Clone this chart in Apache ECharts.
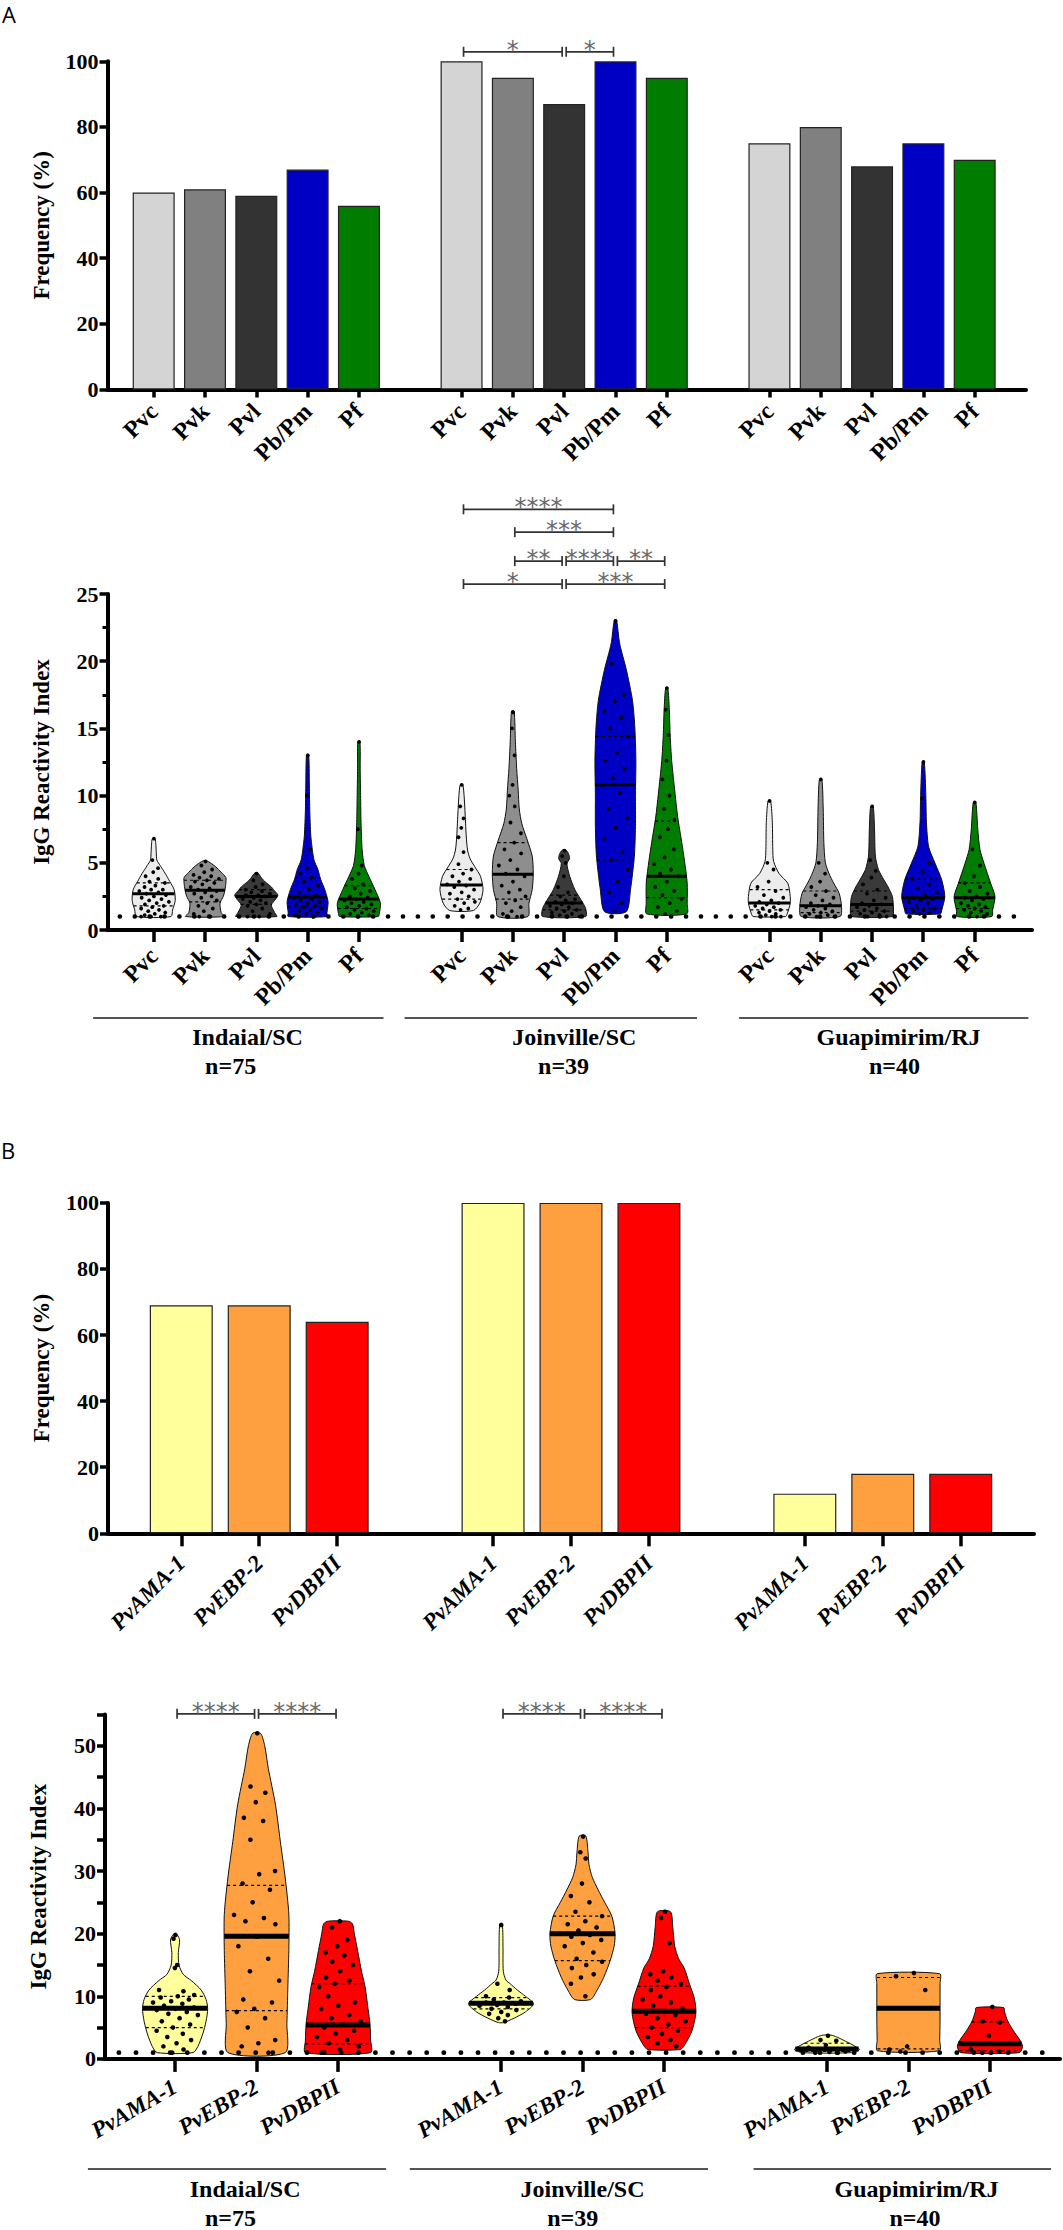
<!DOCTYPE html>
<html>
<head>
<meta charset="utf-8">
<title>IgG seroprevalence and reactivity</title>
<script src="https://cdn.jsdelivr.net/npm/echarts@6.0.0/dist/echarts.min.js"></script>
<style>
  html, body { margin: 0; padding: 0; background: #fff; }
  #chart { width: 1063px; height: 2230px; }
</style>
</head>
<body>
<div id="chart"></div>
<script>
// ---- categories ----
const sites = ['Indaial/SC', 'Joinville/SC', 'Guapimirim/RJ'];
const siteN = ['n=75', 'n=39', 'n=40'];
const antigensA = ['Pvc', 'Pvk', 'Pvl', 'Pb/Pm', 'Pf'];
const antigensB = ['PvAMA-1', 'PvEBP-2', 'PvDBPII'];
const cutoff = 1;

// ---- panel A: frequency (%) ----
const freqA_Indaial = [60, 61, 59, 67, 56];
const freqA_Joinville = [100, 95, 87, 100, 95];
const freqA_Guapimirim = [75, 80, 68, 75, 70];

// ---- panel A: reactivity index (median, quartiles, outline, dots) ----
const medA_Indaial = [2.7, 2.95, 2.5, 2.45, 2.3];
const medA_Joinville = [3.35, 4.15, 2.0, 10.8, 4.0];
const medA_Guapimirim = [2.0, 1.8, 1.9, 2.4, 2.4];
const q1A_Indaial = [1.8, 2.1, 1.9, 1.7, 1.6];
const q1A_Joinville = [2.3, 2.3, 1.5, 5.2, 2.4];
const q1A_Guapimirim = [1.5, 1.3, 1.4, 1.6, 1.6];
const q3A_Indaial = [3.5, 3.7, 3.0, 3.9, 3.3];
const q3A_Joinville = [4.5, 6.5, 2.6, 14.4, 8.1];
const q3A_Guapimirim = [3.0, 2.9, 2.9, 3.8, 3.5];

// outline: [value, relative density]
const shapeA_Indaial = [
  [[1, 0.8], [1.5, 0.88], [2.2, 1.0], [3.0, 0.95], [3.6, 0.75], [4.2, 0.54], [4.8, 0.3], [5.2, 0.15], [5.8, 0.12], [6.4, 0.1], [6.8, 0.06]],
  [[1, 0.9], [1.3, 0.75], [2.0, 0.7], [2.5, 0.85], [3.0, 0.93], [3.5, 0.97], [3.9, 0.97], [4.3, 0.75], [4.7, 0.5], [5.0, 0.25], [5.15, 0.08]],
  [[1, 0.95], [1.3, 0.85], [1.85, 0.7], [2.3, 0.9], [2.6, 1.0], [3.0, 0.8], [3.2, 0.7], [3.6, 0.4], [3.85, 0.25], [4.1, 0.15], [4.25, 0.06]],
  [[1, 0.9], [1.3, 0.9], [2.1, 0.95], [3.0, 0.8], [3.8, 0.6], [4.5, 0.48], [5.2, 0.3], [6.0, 0.22], [7, 0.15], [9, 0.1], [11, 0.08], [13, 0.05]],
  [[1, 0.9], [1.24, 0.95], [2.0, 1.0], [3.0, 0.75], [4.0, 0.46], [4.8, 0.25], [6, 0.15], [8, 0.1], [10, 0.08], [12, 0.06], [14, 0.05]]
];
const shapeA_Joinville = [
  [[1.45, 0.55], [2.0, 0.85], [3.0, 1.0], [4.0, 0.88], [4.7, 0.62], [5.3, 0.4], [5.95, 0.28], [7, 0.22], [8.9, 0.16], [10, 0.12], [10.8, 0.06]],
  [[1, 0.7], [2.0, 0.75], [3.0, 0.9], [4.2, 0.95], [5.5, 0.9], [6.7, 0.67], [7.9, 0.42], [9, 0.3], [10.4, 0.25], [12, 0.18], [14, 0.12], [16.3, 0.06]],
  [[1, 1.0], [1.6, 1.0], [2.2, 0.8], [3.0, 0.5], [4.0, 0.26], [4.95, 0.13], [5.3, 0.25], [5.7, 0.2], [5.95, 0.08]],
  [[1.36, 0.5], [3, 0.7], [5.5, 0.88], [7.7, 0.93], [10.1, 0.93], [12.6, 0.95], [15.1, 0.9], [17.1, 0.79], [19.35, 0.51], [21.3, 0.2], [23.07, 0.05]],
  [[1.2, 0.93], [2, 0.95], [3.5, 0.95], [5.2, 0.82], [6.5, 0.7], [8.4, 0.51], [10.1, 0.39], [12.6, 0.23], [14.5, 0.16], [16.4, 0.12], [18, 0.05]]
];
const shapeA_Guapimirim = [
  [[1, 0.75], [1.24, 0.84], [2.0, 0.97], [2.5, 0.97], [3.47, 0.86], [4.2, 0.45], [5.1, 0.2], [6, 0.16], [8, 0.14], [9.6, 0.06]],
  [[1, 0.9], [1.74, 0.97], [2.73, 0.86], [3.5, 0.6], [4.2, 0.39], [5.0, 0.22], [6.5, 0.15], [9, 0.12], [11.2, 0.06]],
  [[1, 0.95], [1.49, 1.0], [2.48, 0.95], [3.2, 0.75], [3.72, 0.56], [4.5, 0.3], [5.5, 0.16], [7.5, 0.12], [9.2, 0.06]],
  [[1.2, 0.8], [1.49, 0.86], [2.48, 1.0], [3.72, 0.86], [4.96, 0.55], [6.2, 0.25], [8, 0.15], [10, 0.12], [12.5, 0.05]],
  [[1, 0.8], [1.49, 0.84], [2.48, 0.95], [3.47, 0.75], [4.96, 0.44], [6, 0.25], [7.5, 0.15], [9.5, 0.06]]
];

const dotsA_Indaial = [
  [6.8, 5.2, 4.6, 4.3, 4.0, 3.8, 3.6, 3.5, 3.3, 3.2, 3.0, 3.0, 2.9, 2.8, 2.7, 2.6, 2.5, 2.4, 2.3, 2.2, 2.1, 2.0, 1.9, 1.8, 1.7, 1.6, 1.5, 1.4, 1.3, 1.2, 1.1, 1.0, 1.0, 1.0],
  [5.1, 4.8, 4.5, 4.3, 4.1, 4.0, 3.9, 3.8, 3.7, 3.6, 3.5, 3.4, 3.2, 3.1, 3.0, 2.9, 2.8, 2.7, 2.5, 2.4, 2.2, 2.0, 1.8, 1.6, 1.4, 1.2, 1.0, 1.0],
  [4.2, 3.7, 3.4, 3.2, 3.0, 2.9, 2.8, 2.7, 2.6, 2.6, 2.5, 2.4, 2.3, 2.2, 2.1, 2.0, 1.9, 1.8, 1.6, 1.4, 1.2, 1.0, 1.0],
  [13.0, 10.0, 6.0, 4.6, 4.2, 3.9, 3.6, 3.3, 3.0, 2.8, 2.6, 2.5, 2.4, 2.3, 2.2, 2.1, 2.0, 1.9, 1.8, 1.7, 1.6, 1.5, 1.4, 1.3, 1.2, 1.1, 1.0],
  [14.0, 7.5, 4.8, 4.2, 3.8, 3.4, 3.1, 2.9, 2.7, 2.5, 2.4, 2.3, 2.2, 2.1, 2.0, 1.9, 1.8, 1.7, 1.6, 1.5, 1.4, 1.3, 1.2, 1.1, 1.0]
];
const dotsA_Joinville = [
  [10.8, 9.2, 8.3, 7.6, 6.9, 5.8, 4.9, 4.5, 4.2, 4.0, 3.8, 3.6, 3.4, 3.3, 3.2, 3.0, 2.8, 2.7, 2.5, 2.3, 2.1, 2.0, 1.8, 1.6, 1.5],
  [16.2, 15.0, 13.0, 10.8, 10.0, 9.2, 8.0, 7.2, 6.5, 6.0, 5.7, 5.2, 4.8, 4.5, 4.2, 4.0, 3.6, 3.3, 3.0, 2.8, 2.5, 2.2, 2.0, 1.7, 1.4, 1.2, 1.0, 1.0],
  [5.9, 5.5, 5.0, 4.0, 3.2, 2.8, 2.5, 2.3, 2.2, 2.1, 2.0, 1.9, 1.8, 1.7, 1.6, 1.5, 1.4, 1.3, 1.2, 1.1, 1.0, 1.0],
  [23.0, 19.8, 17.5, 17.0, 16.3, 15.8, 15.0, 14.4, 13.2, 12.6, 12.0, 11.3, 10.8, 10.2, 9.0, 8.3, 7.6, 6.8, 5.8, 5.2, 4.5, 3.6, 2.8, 2.0, 1.4],
  [18.0, 16.4, 14.5, 12.6, 11.2, 10.0, 9.0, 8.2, 7.5, 6.9, 6.0, 5.4, 4.9, 4.5, 4.2, 4.0, 3.6, 3.2, 2.9, 2.6, 2.3, 2.0, 1.7, 1.4, 1.2]
];
const dotsA_Guapimirim = [
  [9.6, 5.0, 4.5, 3.6, 3.2, 2.9, 2.6, 2.4, 2.2, 2.1, 2.0, 1.9, 1.8, 1.7, 1.6, 1.5, 1.4, 1.3, 1.2, 1.1, 1.0, 1.0],
  [11.2, 5.0, 4.2, 3.6, 3.2, 2.9, 2.6, 2.4, 2.2, 2.0, 1.9, 1.8, 1.7, 1.6, 1.5, 1.4, 1.3, 1.2, 1.1, 1.0, 1.0],
  [9.2, 5.2, 4.4, 3.9, 3.4, 3.0, 2.7, 2.4, 2.2, 2.0, 1.9, 1.8, 1.7, 1.6, 1.5, 1.4, 1.3, 1.2, 1.1, 1.0, 1.0],
  [12.5, 9.8, 5.0, 4.3, 3.8, 3.4, 3.1, 2.8, 2.6, 2.4, 2.3, 2.2, 2.1, 2.0, 1.8, 1.6, 1.5, 1.4, 1.3, 1.2],
  [9.5, 6.0, 4.8, 4.0, 3.5, 3.2, 2.9, 2.7, 2.5, 2.4, 2.3, 2.2, 2.0, 1.9, 1.8, 1.7, 1.6, 1.5, 1.4, 1.3, 1.2, 1.0]
];

// ---- panel B: frequency (%) ----
const freqB_Indaial = [69, 69, 64];
const freqB_Joinville = [100, 100, 100];
const freqB_Guapimirim = [12, 18, 18];

// ---- panel B: reactivity index ----
const medB_Indaial = [8.1, 19.6, 5.4];
const medB_Joinville = [8.9, 20.0, 7.6];
const medB_Guapimirim = [1.6, 8.1, 2.4];
const q1B_Indaial = [5.0, 7.7, 2.4];
const q1B_Joinville = [8.0, 15.7, 5.0];
const q1B_Guapimirim = [1.2, 1.6, 1.3];
const q3B_Indaial = [10.0, 27.7, 12.0];
const q3B_Joinville = [9.8, 22.8, 11.6];
const q3B_Guapimirim = [2.5, 13.0, 5.9];

const shapeB_Indaial = [
  [[1, 0.55], [2, 0.7], [4, 0.85], [6, 0.95], [8, 1.0], [9.5, 0.95], [11, 0.8], [12.5, 0.5], [13.5, 0.25], [15, 0.12], [17, 0.1], [19, 0.14], [19.9, 0.05]],
  [[1, 0.88], [5.6, 0.93], [11.5, 0.96], [17.3, 0.99], [23.1, 0.99], [28.9, 0.88], [34.7, 0.73], [40.6, 0.58], [46.4, 0.36], [50, 0.25], [52, 0.12]],
  [[1, 1.0], [3, 1.0], [5.6, 0.98], [8, 0.92], [11.5, 0.83], [14, 0.72], [17.3, 0.6], [20, 0.5], [21.6, 0.44], [22, 0.3]]
];
const shapeB_Joinville = [
  [[5.8, 0.08], [6.5, 0.4], [7.5, 0.75], [8.8, 1.0], [10, 0.75], [11, 0.5], [12, 0.28], [12.6, 0.15], [14, 0.07], [18, 0.06], [21.4, 0.04]],
  [[9.5, 0.25], [11, 0.45], [13, 0.65], [15.7, 0.85], [18, 0.97], [20, 1.0], [22.8, 0.9], [25, 0.68], [27, 0.48], [29, 0.3], [31, 0.2], [33, 0.17], [35.6, 0.1]],
  [[1.5, 0.5], [2.2, 0.63], [4.5, 0.86], [7.4, 0.98], [9.7, 0.93], [12, 0.78], [14.5, 0.62], [16, 0.45], [18, 0.33], [21, 0.27], [23.5, 0.2]]
];
const shapeB_Guapimirim = [
  [[1, 0.75], [1.5, 1.0], [2.2, 0.8], [3, 0.5], [3.5, 0.3], [3.8, 0.12]],
  [[1.3, 0.95], [3, 0.96], [6, 0.97], [9, 0.97], [12, 0.97], [13.6, 0.96]],
  [[1, 0.9], [2, 1.0], [3, 0.92], [4.5, 0.72], [6, 0.55], [7.5, 0.45], [8.2, 0.42]]
];

const dotsB_Indaial = [
  [19.8, 19.2, 15.0, 14.5, 11.0, 10.8, 10.5, 10.2, 10.0, 9.8, 9.5, 9.2, 9.0, 8.8, 8.5, 8.2, 8.0, 7.8, 7.5, 7.2, 7.0, 6.5, 6.0, 5.5, 5.0, 4.5, 4.0, 3.5, 3.0, 2.5, 2.0, 1.5, 1.0],
  [52.0, 43.5, 42.5, 41.0, 38.5, 38.0, 35.0, 30.0, 29.5, 28.0, 27.0, 25.0, 23.0, 22.5, 22.0, 21.5, 19.5, 18.0, 16.0, 14.0, 12.5, 10.5, 9.5, 9.0, 8.0, 7.5, 6.5, 5.0, 3.0, 2.5, 2.0, 1.0],
  [22.0, 21.0, 19.0, 18.0, 17.0, 16.5, 15.5, 15.0, 14.0, 13.0, 12.5, 12.0, 11.5, 10.5, 10.0, 9.0, 8.5, 8.0, 7.0, 6.5, 6.0, 5.5, 5.0, 4.5, 4.0, 3.5, 3.0, 2.5, 2.0, 1.5, 1.0]
];
const dotsB_Joinville = [
  [21.4, 12.0, 11.0, 10.5, 10.0, 9.8, 9.5, 9.2, 9.0, 9.0, 8.8, 8.6, 8.5, 8.3, 8.0, 7.8, 7.5, 7.2, 7.0, 6.5, 6.0],
  [35.5, 33.0, 32.0, 28.0, 26.0, 25.0, 23.5, 22.8, 22.0, 21.5, 21.0, 20.5, 20.0, 19.8, 19.5, 19.0, 18.5, 18.0, 17.0, 16.0, 15.5, 15.0, 14.5, 13.5, 13.0, 12.0, 10.0],
  [23.5, 22.5, 18.5, 14.0, 13.5, 13.0, 12.5, 12.0, 11.5, 11.0, 10.5, 10.0, 9.5, 9.0, 8.5, 8.0, 7.5, 7.2, 7.0, 6.5, 6.0, 5.5, 5.0, 4.5, 4.0, 3.5, 3.0, 2.5, 2.0]
];
const dotsB_Guapimirim = [
  [3.7, 3.0, 2.9, 2.2, 1.8, 1.5, 1.3, 1.2, 1.1, 1.0, 1.0],
  [13.7, 13.2, 11.0, 2.0, 1.5, 1.3, 1.2],
  [8.3, 6.0, 5.8, 3.7, 1.5, 1.2, 1.0]
];

// ---- significance brackets: [from slot, to slot, height, number of stars] ----
const sigBarA = [[6, 8, 102.9, 1], [8, 9, 102.9, 1]];
const sigViolinA = [[6, 9, 31.3, 4], [7, 9, 29.6, 3], [7, 8, 27.45, 2], [8, 9, 27.45, 4], [9, 10, 27.45, 2], [6, 8, 25.74, 1], [8, 10, 25.74, 3]];
const sigViolinB = [[0, 1, 55.1, 4], [1, 2, 55.1, 4], [4, 5, 55.1, 4], [5, 6, 55.1, 4]];

// ---- styles ----
const SERIF = "'Liberation Serif', 'Times New Roman', serif";
const barColorsA = ['#d4d4d4', '#808080', '#333333', '#0000c4', '#007d00'];
const violinColorsA = ['#ececec', '#8e8e8e', '#3a3a3a', '#0000c4', '#007d00'];
const colorsB = ['#ffff9c', '#ffa040', '#ff0000'];

// group labels under the violins (axis units / px below axis)
const groupLayoutA = { spans: [[-1.18, 4.48], [4.89, 10.59], [11.41, 17.05]], nameX: [1.83, 8.2, 14.52], nX: [1.5, 7.99, 14.44], lineDy: 88, nameDy: 107, nDy: 136 };
const groupLayoutB = { spans: [[-1.07, 2.59], [2.88, 6.54], [7.1, 10.75]], nameX: [0.86, 5.0, 9.1], nX: [0.68, 4.88, 9.08], lineDy: 110, nameDy: 130, nDy: 159 };

const freqA = [freqA_Indaial, freqA_Joinville, freqA_Guapimirim];
const freqB = [freqB_Indaial, freqB_Joinville, freqB_Guapimirim];
const violinA = {
  med: [medA_Indaial, medA_Joinville, medA_Guapimirim],
  q1: [q1A_Indaial, q1A_Joinville, q1A_Guapimirim],
  q3: [q3A_Indaial, q3A_Joinville, q3A_Guapimirim],
  shape: [shapeA_Indaial, shapeA_Joinville, shapeA_Guapimirim],
  dots: [dotsA_Indaial, dotsA_Joinville, dotsA_Guapimirim]
};
const violinB = {
  med: [medB_Indaial, medB_Joinville, medB_Guapimirim],
  q1: [q1B_Indaial, q1B_Joinville, q1B_Guapimirim],
  q3: [q3B_Indaial, q3B_Joinville, q3B_Guapimirim],
  shape: [shapeB_Indaial, shapeB_Joinville, shapeB_Guapimirim],
  dots: [dotsB_Indaial, dotsB_Joinville, dotsB_Guapimirim]
};

// slot on the x axis: groups separated by one empty slot
function slotOf(s, a, n) { return s * (n + 1) + a; }
function slotList(n) {
  const out = [];
  sites.forEach((_, s) => { for (let a = 0; a < n; a++) out.push(slotOf(s, a, n)); });
  return out;
}
function nameLookup(names) {
  const m = {};
  sites.forEach((_, s) => names.forEach((nm, a) => { m[slotOf(s, a, names.length)] = nm; }));
  return m;
}
const slotsA = slotList(antigensA.length), namesA = nameLookup(antigensA);
const slotsB = slotList(antigensB.length), namesB = nameLookup(antigensB);

function densAt(shape, v) {
  if (v <= shape[0][0]) return shape[0][1];
  for (let i = 1; i < shape.length; i++) {
    if (v <= shape[i][0]) {
      const v0 = shape[i - 1][0], d0 = shape[i - 1][1], v1 = shape[i][0], d1 = shape[i][1];
      return d0 + (d1 - d0) * (v - v0) / (v1 - v0);
    }
  }
  return shape[shape.length - 1][1];
}

function violinRender(vd, fills, cfg) {
  return function (params, api) {
    const slot = api.value(0), s = api.value(2), a = api.value(3);
    const shape = vd.shape[s][a];
    const hw = api.size([1, 0])[0] * cfg.half;
    const left = [], right = [];
    shape.forEach(function (pt) {
      const p = api.coord([slot, pt[0]]);
      left.push([p[0] - pt[1] * hw, p[1]]);
      right.unshift([p[0] + pt[1] * hw, p[1]]);
    });
    const children = [{
      type: 'polygon',
      shape: { points: left.concat(right), smooth: cfg.smooth },
      style: { fill: fills[a], stroke: '#111', lineWidth: 1 }
    }];
    function hline(v, w, dashed) {
      const p = api.coord([slot, v]);
      const d = densAt(shape, v) * hw;
      const st = { stroke: '#000', lineWidth: w };
      if (dashed) st.lineDash = [3, 3];
      children.push({ type: 'line', shape: { x1: p[0] - d, y1: p[1], x2: p[0] + d, y2: p[1] }, style: st });
    }
    hline(vd.q1[s][a], 1.2, true);
    hline(vd.q3[s][a], 1.2, true);
    hline(vd.med[s][a], cfg.medW, false);
    vd.dots[s][a].forEach(function (v, j) {
      const u = (((j + 1) * 0.618034) % 1) * 2 - 1;
      const p = api.coord([slot, v]);
      children.push({
        type: 'circle',
        shape: { cx: p[0] + u * densAt(shape, v) * hw * 0.75, cy: p[1], r: cfg.dotR },
        style: { fill: '#000' }
      });
    });
    return { type: 'group', children: children };
  };
}

function bracketRender(list, cfg) {
  return function (params, api) {
    const b = list[params.dataIndex];
    const p1 = api.coord([b[0], b[2]]), p2 = api.coord([b[1], b[2]]);
    const x1 = p1[0] + 2, x2 = p2[0] - 2, y = p1[1];
    const st = { stroke: '#333', lineWidth: 1.7 };
    return {
      type: 'group',
      children: [
        { type: 'line', shape: { x1: x1, y1: y, x2: x2, y2: y }, style: st },
        { type: 'line', shape: { x1: x1, y1: y - 5, x2: x1, y2: y + 5 }, style: st },
        { type: 'line', shape: { x1: x2, y1: y - 5, x2: x2, y2: y + 5 }, style: st },
        {
          type: 'text',
          style: {
            x: (x1 + x2) / 2, y: y - cfg.lift, text: '*'.repeat(b[3]),
            align: 'center', verticalAlign: 'middle', fill: '#6a6a6a',
            fontSize: cfg.size, fontFamily: 'DejaVu Sans'
          }
        }
      ]
    };
  };
}

function groupRender(lay) {
  return function (params, api) {
    const i = params.dataIndex;
    const a = api.coord([lay.spans[i][0], 0]);
    const b = api.coord([lay.spans[i][1], 0]);
    const c = api.coord([lay.nameX[i], 0]);
    const d = api.coord([lay.nX[i], 0]);
    const y0 = a[1];
    const font = { fontSize: 24, fontWeight: 'bold', fontFamily: SERIF, fill: '#000', align: 'center', verticalAlign: 'middle' };
    return {
      type: 'group',
      children: [
        { type: 'line', shape: { x1: a[0], y1: y0 + lay.lineDy, x2: b[0], y2: y0 + lay.lineDy }, style: { stroke: '#555', lineWidth: 2 } },
        { type: 'text', style: Object.assign({ x: c[0], y: y0 + lay.nameDy, text: sites[i] }, font) },
        { type: 'text', style: Object.assign({ x: d[0], y: y0 + lay.nDy, text: siteN[i] }, font) }
      ]
    };
  };
}

function xAxisCfg(gi, min, max, slots, names, o) {
  return {
    type: 'value', gridIndex: gi, min: min, max: max,
    splitLine: { show: false },
    axisLine: { show: true, onZero: false, lineStyle: { color: '#000', width: 4 } },
    axisTick: { show: true, customValues: slots, length: o.tick, lineStyle: { color: '#000', width: 3.5 } },
    axisLabel: {
      show: true, customValues: slots, rotate: o.rotate, margin: o.margin,
      formatter: function (v) { return names[Math.round(v)] || ''; },
      color: '#000', fontSize: o.size, fontWeight: 'bold', fontStyle: o.italic ? 'italic' : 'normal', fontFamily: SERIF
    }
  };
}

function yAxisCfg(gi, max, interval, name, extra) {
  return Object.assign({
    type: 'value', gridIndex: gi, min: 0, max: max, interval: interval,
    name: name, nameLocation: 'middle', nameGap: 55,
    nameTextStyle: { color: '#000', fontSize: 23, fontWeight: 'bold', fontFamily: SERIF },
    splitLine: { show: false },
    axisLine: { show: true, onZero: false, lineStyle: { color: '#000', width: 4 } },
    axisTick: { show: true, length: 8, lineStyle: { color: '#000', width: 3.5 } },
    axisLabel: { margin: 9, color: '#000', fontSize: 22, fontWeight: 'bold', fontFamily: SERIF }
  }, extra || {});
}

function barData(freq, n, colors) {
  const out = [];
  freq.forEach(function (vals, s) {
    vals.forEach(function (v, a) {
      out.push({ value: [slotOf(s, a, n), v], itemStyle: { color: colors[a] } });
    });
  });
  return out;
}
function violinData(vd, n) {
  const out = [];
  vd.med.forEach(function (vals, s) {
    vals.forEach(function (m, a) { out.push([slotOf(s, a, n), m, s, a]); });
  });
  return out;
}

const chart = echarts.init(document.getElementById('chart'), null, { renderer: 'svg', width: 1063, height: 2230 });

chart.setOption({
  backgroundColor: '#fff',
  animation: false,
  textStyle: { fontFamily: SERIF },
  graphic: [
    { type: 'text', left: 2, top: 3, style: { text: 'A', fontSize: 22, fontFamily: 'Open Sans', fill: '#000' } },
    { type: 'text', left: 1, top: 1139, style: { text: 'B', fontSize: 22, fontFamily: 'Open Sans', fill: '#000' } }
  ],
  grid: [
    { left: 107.5, top: 61.3, width: 918.5, height: 328.2, outerBoundsMode: 'none', containLabel: false },
    { left: 107.5, top: 594, width: 924.5, height: 336, outerBoundsMode: 'none', containLabel: false },
    { left: 108, top: 1202.9, width: 926, height: 330.4, outerBoundsMode: 'none', containLabel: false },
    { left: 105, top: 1714.5, width: 955, height: 344.4, outerBoundsMode: 'none', containLabel: false }
  ],
  xAxis: [
    xAxisCfg(0, -0.9, 17.0, slotsA, namesA, { tick: 8, rotate: 45, margin: 18, size: 24 }),
    xAxisCfg(1, -0.9, 17.12, slotsA, namesA, { tick: 12, rotate: 45, margin: 22, size: 24 }),
    xAxisCfg(2, -0.94, 10.94, slotsB, namesB, { tick: 13, rotate: 45, margin: 26, size: 23, italic: true }),
    xAxisCfg(3, -0.86, 10.86, slotsB, namesB, { tick: 13, rotate: 30, margin: 26, size: 23, italic: true })
  ],
  yAxis: [
    yAxisCfg(0, 100, 20, 'Frequency (%)'),
    yAxisCfg(1, 25, 5, 'IgG Reactivity Index', {
      minorTick: { show: true, splitNumber: 2, length: 5, lineStyle: { color: '#000', width: 3 } }
    }),
    yAxisCfg(2, 100, 20, 'Frequency (%)'),
    yAxisCfg(3, 55, 5, 'IgG Reactivity Index', {
      axisLabel: {
        margin: 9, color: '#000', fontSize: 22, fontWeight: 'bold', fontFamily: SERIF,
        formatter: function (v) { return v % 10 === 0 ? String(v) : ''; }
      }
    })
  ],
  series: [
    {
      type: 'bar', xAxisIndex: 0, yAxisIndex: 0, barWidth: 42,
      data: barData(freqA, antigensA.length, barColorsA),
      itemStyle: { borderColor: '#222', borderWidth: 1.2 }
    },
    {
      type: 'custom', xAxisIndex: 0, yAxisIndex: 0, clip: false, z: 4,
      renderItem: bracketRender(sigBarA, { lift: 2, size: 24 }),
      data: sigBarA.map(function (b) { return [b[0], b[2]]; })
    },
    {
      type: 'custom', xAxisIndex: 1, yAxisIndex: 1, clip: false,
      dimensions: ['x', 'y', 'site', 'ant'], encode: { x: 0, y: 1 },
      renderItem: violinRender(violinA, violinColorsA, { half: 0.42, smooth: 0.25, medW: 3, dotR: 1.9 }),
      data: violinData(violinA, antigensA.length)
    },
    {
      type: 'line', xAxisIndex: 1, yAxisIndex: 1, symbol: 'none', silent: true, z: 5,
      data: [[-0.66, cutoff], [16.9, cutoff]],
      lineStyle: { color: '#000', width: 4.6, type: [0.1, 14.8], cap: 'round' }
    },
    {
      type: 'custom', xAxisIndex: 1, yAxisIndex: 1, clip: false, z: 4,
      renderItem: bracketRender(sigViolinA, { lift: 2, size: 24 }),
      data: sigViolinA.map(function (b) { return [b[0], b[2]]; })
    },
    {
      type: 'custom', xAxisIndex: 1, yAxisIndex: 1, clip: false,
      renderItem: groupRender(groupLayoutA),
      data: sites.map(function (_, i) { return [groupLayoutA.spans[i][0], 0]; })
    },
    {
      type: 'bar', xAxisIndex: 2, yAxisIndex: 2, barWidth: 63,
      data: barData(freqB, antigensB.length, colorsB),
      itemStyle: { borderColor: '#222', borderWidth: 1.2 }
    },
    {
      type: 'custom', xAxisIndex: 3, yAxisIndex: 3, clip: false,
      dimensions: ['x', 'y', 'site', 'ant'], encode: { x: 0, y: 1 },
      renderItem: violinRender(violinB, colorsB, { half: 0.40, smooth: 0.25, medW: 5, dotR: 2.3 }),
      data: violinData(violinB, antigensB.length)
    },
    {
      type: 'line', xAxisIndex: 3, yAxisIndex: 3, symbol: 'none', silent: true, z: 5,
      data: [[-0.69, cutoff], [10.75, cutoff]],
      lineStyle: { color: '#000', width: 4.8, type: [0.1, 17], cap: 'round' }
    },
    {
      type: 'custom', xAxisIndex: 3, yAxisIndex: 3, clip: false, z: 4,
      renderItem: bracketRender(sigViolinB, { lift: 2, size: 24 }),
      data: sigViolinB.map(function (b) { return [b[0], b[2]]; })
    },
    {
      type: 'custom', xAxisIndex: 3, yAxisIndex: 3, clip: false,
      renderItem: groupRender(groupLayoutB),
      data: sites.map(function (_, i) { return [groupLayoutB.spans[i][0], 0]; })
    }
  ]
});
</script>
</body>
</html>
